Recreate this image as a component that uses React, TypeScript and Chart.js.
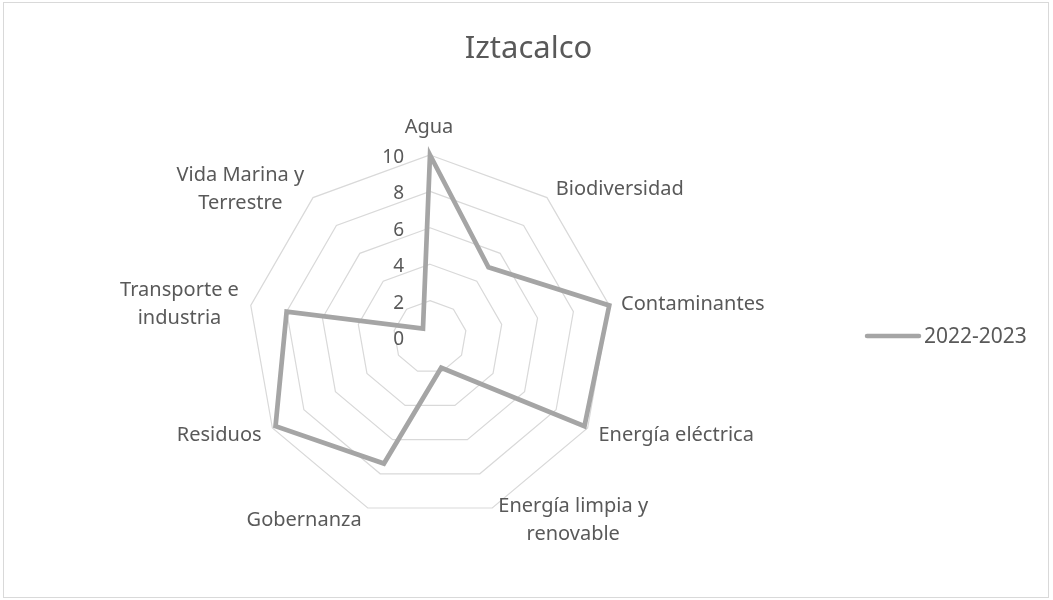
import { useEffect, useRef } from 'react';
import { Chart, registerables } from 'chart.js';

Chart.register(...registerables);

const TITLE = 'Iztacalco';
const SERIES_LABEL = '2022-2023';
const CATEGORIES: string[][] = [
  ['Agua'],
  ['Biodiversidad'],
  ['Contaminantes'],
  ['Energía eléctrica'],
  ['Energía limpia y', 'renovable'],
  ['Gobernanza'],
  ['Residuos'],
  ['Transporte e', 'industria'],
  ['Vida Marina y', 'Terrestre'],
];
const VALUES = [10, 5, 10, 9.8, 1.8, 7.4, 9.8, 8, 0.6];
const TICKS = [0, 2, 4, 6, 8, 10];

const TEXT_COLOR = '#595959';
const LINE_COLOR = '#a5a5a5';
const GRID_COLOR = '#d9d9d9';
const FONT = '"Noto Sans", "DejaVu Sans", sans-serif';

const overlayPlugin = {
  id: 'excelOverlay',
  afterDraw(chart: any) {
    const ctx = chart.ctx as CanvasRenderingContext2D;
    const s = chart.scales.r as any;
    ctx.save();
    ctx.fillStyle = TEXT_COLOR;
    ctx.textBaseline = 'alphabetic';

    // Title
    ctx.font = `31px ${FONT}`;
    ctx.textAlign = 'center';
    ctx.fillText(TITLE, chart.width / 2 + 2, 58);

    // Point labels (Excel-like placement)
    ctx.font = `20px ${FONT}`;
    const lineH = 28;
    CATEGORIES.forEach((lines, i) => {
      const v = s.getPointPosition(i, s.drawingArea);
      const ang = s.getIndexAngle(i);
      const sin = Math.sin(ang);
      const cos = Math.cos(ang);
      const bw = Math.max(...lines.map((l) => ctx.measureText(l).width));
      const n = lines.length;
      let cx: number;
      let cy: number;
      if (Math.abs(sin) < 0.01) {
        cx = v.x - 1;
        cy = v.y - cos * 29;
      } else {
        const gap = 3 + 9 * Math.abs(sin);
        cx = v.x + Math.sign(sin) * (gap + bw / 2);
        cy = v.y - cos * 12;
      }
      ctx.textAlign = 'center';
      lines.forEach((l, k) => {
        ctx.fillText(l, cx, cy - ((n - 1) * lineH) / 2 + k * lineH + 7);
      });
    });

    // Tick labels, left of the vertical axis
    ctx.font = `19px ${FONT}`;
    ctx.textAlign = 'right';
    (s.ticks as any[]).forEach((t) => {
      const d = s.getDistanceFromCenterForValue(t.value);
      ctx.fillText(String(t.value), s.xCenter - 26, s.yCenter - d + 8);
    });

    // Legend
    const ds = chart.data.datasets[0];
    ctx.strokeStyle = ds.borderColor;
    ctx.lineWidth = 4.5;
    ctx.lineCap = 'round';
    ctx.beginPath();
    ctx.moveTo(867, 336);
    ctx.lineTo(919, 336);
    ctx.stroke();
    ctx.font = `21px ${FONT}`;
    ctx.textAlign = 'left';
    ctx.fillText(ds.label, 924, 343);

    ctx.restore();
  },
};

export default function App() {
  const ref = useRef<HTMLCanvasElement | null>(null);

  useEffect(() => {
    if (!ref.current) return;
    const chart = new Chart(ref.current, {
      type: 'radar',
      data: {
        labels: CATEGORIES,
        datasets: [
          {
            label: SERIES_LABEL,
            data: VALUES,
            borderColor: LINE_COLOR,
            backgroundColor: 'transparent',
            borderWidth: 4.7,
            borderJoinStyle: 'miter',
            fill: false,
            pointRadius: 0,
            pointHoverRadius: 0,
            tension: 0,
          },
        ],
      },
      options: {
        animation: false,
        responsive: false,
        maintainAspectRatio: false,
        layout: { padding: { left: 248, right: 441, top: 155, bottom: 81 } },
        plugins: {
          legend: { display: false },
          title: { display: false },
          tooltip: { enabled: false },
        },
        scales: {
          r: {
            min: 0,
            max: 10,
            startAngle: 0,
            afterBuildTicks: (axis: any) => {
              axis.ticks = TICKS.map((value) => ({ value }));
            },
            ticks: { display: false, stepSize: 2 },
            grid: { color: GRID_COLOR, lineWidth: 1.2 },
            angleLines: { display: false },
            pointLabels: { display: false },
          },
        },
      },
      plugins: [overlayPlugin],
    });
    return () => chart.destroy();
  }, []);

  return (
    <div style={{ position: 'absolute', left: 0, top: 0, width: 1053, height: 600, background: '#fff' }}>
      <div
        style={{
          position: 'absolute',
          left: 3,
          top: 2,
          width: 1046,
          height: 596,
          border: '1px solid #d9d9d9',
          boxSizing: 'border-box',
        }}
      />
      <canvas
        ref={ref}
        width={1053}
        height={600}
        style={{ position: 'absolute', left: 0, top: 0, width: 1053, height: 600 }}
      />
    </div>
  );
}
